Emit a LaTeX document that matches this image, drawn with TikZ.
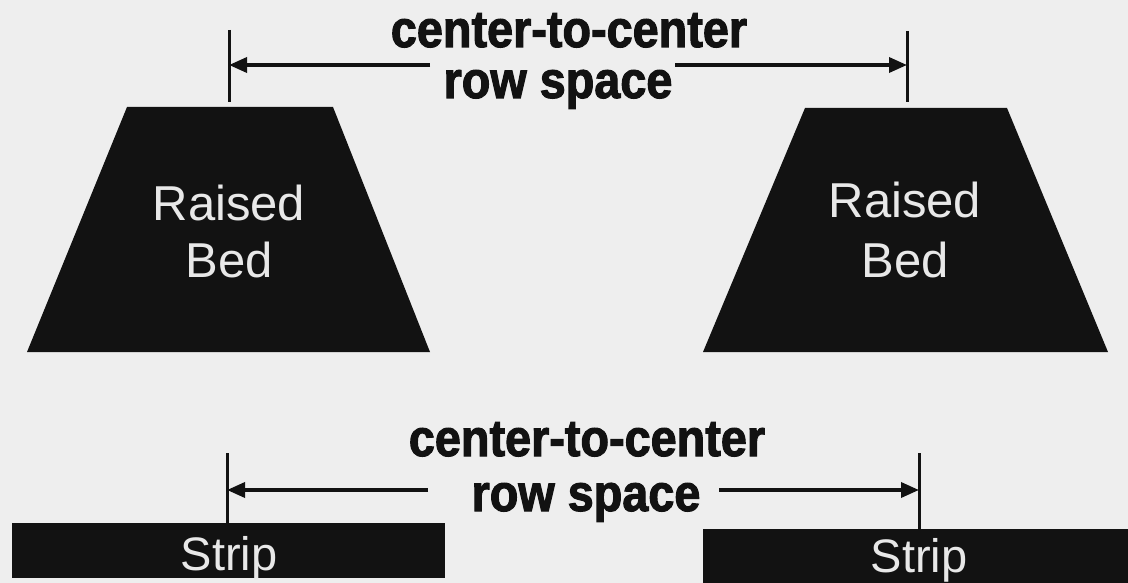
\documentclass[tikz,border=0pt]{standalone}
\usepackage{fontspec}
\setmainfont{Liberation Sans}
\newfontfamily\heavyfont[FakeStretch=0.9,FakeBold=2]{Liberation Sans}
\usetikzlibrary{arrows.meta}
\definecolor{bgcol}{RGB}{238,238,238}
\definecolor{shapecol}{RGB}{18,18,18}
\definecolor{lettercol}{RGB}{232,232,232}
\begin{document}
\begin{tikzpicture}[x=1pt,y=-1pt,
  bedshape/.style={fill=shapecol},
  tickline/.style={line width=3pt, draw=shapecol},
  dimarrow/.style={line width=3.5pt, draw=shapecol, -{Triangle[length=18pt,width=15pt]}},
  dimtext/.style={font=\heavyfont\bfseries\fontsize{52}{56}\selectfont, text=shapecol, anchor=base, inner sep=0pt},
  bedtext/.style={font=\fontsize{49}{57}\selectfont, text=lettercol, anchor=base, inner sep=0pt},
  striptext/.style={font=\fontsize{47}{52}\selectfont, text=lettercol, anchor=base, inner sep=0pt}]
\fill[bgcol] (0,0) rectangle (1128,583);
\useasboundingbox (0,0) rectangle (1128,583);

% raised beds
\fill[bedshape] (127,107) -- (333,107) -- (430,352) -- (27,352) -- cycle;
\fill[bedshape] (805,108) -- (1007,108) -- (1108,352) -- (703,352) -- cycle;
\node[bedtext] (r1) at (229,220) {Raised};
\node[bedtext] (b1) at (229,277) {Bed};
\node[bedtext] (r2) at (905,218) {Raised};
\node[bedtext] (b2) at (905,277) {Bed};

% strips
\fill[bedshape] (12,523) rectangle (445,578);
\fill[bedshape] (703,529) rectangle (1128,583);
\node[striptext] (s1) at (229,570) {Strip};
\node[striptext] (s2) at (919,572) {Strip};

% top dimension
\coordinate (t1a) at (229,30);
\coordinate (t1b) at (229,102);
\coordinate (t2a) at (907,31);
\coordinate (t2b) at (907,102);
\draw[tickline] (t1a) -- (t1b);
\draw[tickline] (t2a) -- (t2b);
\coordinate (t1m) at (229,65);
\coordinate (t2m) at (907,65);
\coordinate (ta1) at (430,65);
\coordinate (ta2) at (675,65);
\draw[dimarrow] (ta1) -- (t1m);
\draw[dimarrow] (ta2) -- (t2m);
\node[dimtext] (tt1) at (569,47) {center-to-center};
\node[dimtext] (tt2) at (558,98) {row space};

% bottom dimension
\coordinate (u1a) at (227,453);
\coordinate (u1b) at (227,523);
\coordinate (u2a) at (919,453);
\coordinate (u2b) at (919,529);
\draw[tickline] (u1a) -- (u1b);
\draw[tickline] (u2a) -- (u2b);
\coordinate (u1m) at (227,490);
\coordinate (u2m) at (919,490);
\coordinate (ua1) at (428,490);
\coordinate (ua2) at (719,490);
\draw[dimarrow] (ua1) -- (u1m);
\draw[dimarrow] (ua2) -- (u2m);
\node[dimtext] (bt1) at (587,456) {center-to-center};
\node[dimtext] (bt2) at (586,511) {row space};
\end{tikzpicture}
\end{document}
